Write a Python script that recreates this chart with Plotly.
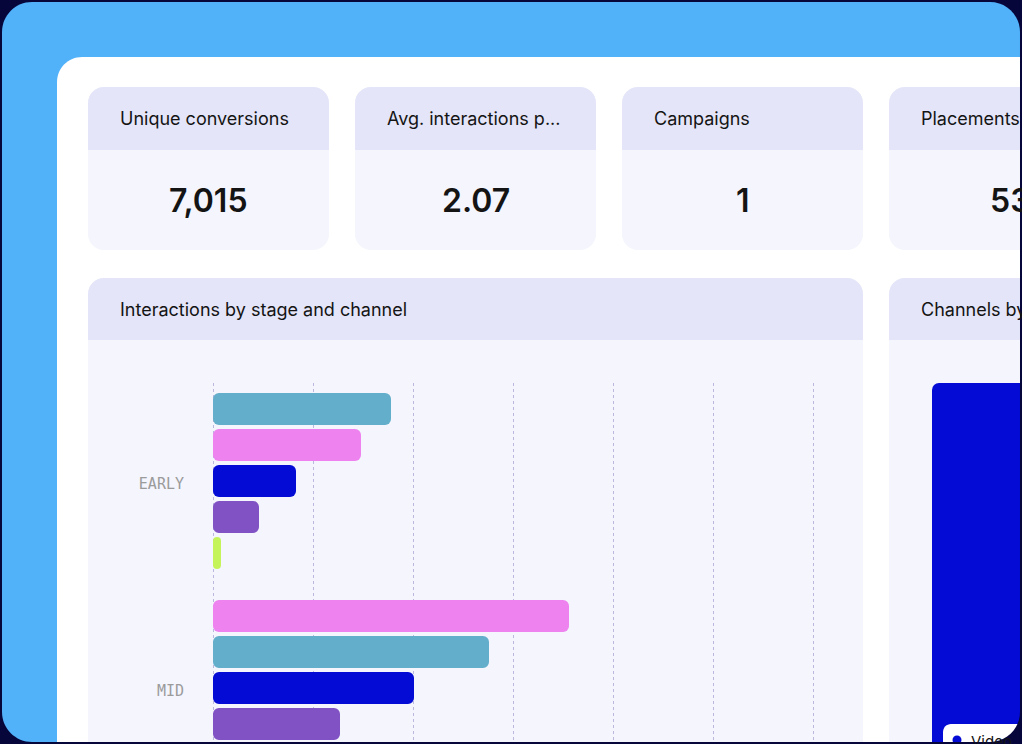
import plotly.graph_objects as go

# ---------------------------
# data
# ---------------------------
kpi_labels = ["Unique conversions", "Avg. interactions p...", "Campaigns", "Placements"]
kpi_values = [7015, 2.07, 1, 53]

stages = ["EARLY", "MID", "LATE"]
channels = ["Social", "Display", "Video", "Search", "Email"]
channel_colors = ["#63aecb", "#ee82ee", "#030bd4", "#8052c4", "#c5f45a"]
# interactions per stage (rows) and channel (cols)
interactions = [
    [1780, 1480, 830, 460, 80],
    [2760, 3560, 2010, 1270, 150],
    [1150, 940, 1320, 610, 60],
]

share_labels = ["Video"]
share_values = [100]

W, H = 1022, 744
NAVY = "#06063b"
FRAME = "#51b1f9"
HEAD = "#e4e5f8"
BODY = "#f4f5fd"
FONT = "Inter"


def px(x):
    return x / W


def py(y):
    return 1 - y / H


def rrect(x0, y0, x1, y1, tl=0, tr=0, br=0, bl=0):
    # rounded rect as svg path in paper units (input in pixels)
    k = 0.4477
    p = lambda x, y: f"{px(x):.5f},{py(y):.5f}"
    s = f"M {p(x0 + tl, y0)} L {p(x1 - tr, y0)} "
    if tr:
        s += f"C {p(x1 - tr * k, y0)} {p(x1, y0 + tr * k)} {p(x1, y0 + tr)} "
    s += f"L {p(x1, y1 - br)} "
    if br:
        s += f"C {p(x1, y1 - br * k)} {p(x1 - br * k, y1)} {p(x1 - br, y1)} "
    s += f"L {p(x0 + bl, y1)} "
    if bl:
        s += f"C {p(x0 + bl * k, y1)} {p(x0, y1 - bl * k)} {p(x0, y1 - bl)} "
    s += f"L {p(x0, y0 + tl)} "
    if tl:
        s += f"C {p(x0, y0 + tl * k)} {p(x0 + tl * k, y0)} {p(x0 + tl, y0)} "
    return s + "Z"


def box(path, color, layer="below"):
    return dict(type="path", path=path, xref="paper", yref="paper",
                fillcolor=color, line=dict(width=0), layer=layer)


def label(x, y, text, size=18, anchor="left", weight=400):
    return dict(x=px(x), y=py(y), xref="paper", yref="paper", text=text,
                showarrow=False, xanchor=anchor, yanchor="middle", borderpad=0,
                font=dict(family=FONT, size=size, color="#141414", weight=weight))


shapes = [
    box(rrect(2, 2, 1020, 742, 30, 30, 30, 30), FRAME),
    box(rrect(57, 57, 1020, 742, 25, 0, 30, 0), "white"),
]
annotations = []

# KPI cards
card_w, gap = 241, 26
for i, (lab, val) in enumerate(zip(kpi_labels, kpi_values)):
    x0 = 88 + i * (card_w + gap)
    shapes.append(box(rrect(x0, 87, x0 + card_w, 250, 16, 16, 16, 16), BODY))
    shapes.append(box(rrect(x0, 87, x0 + card_w, 150, 16, 16, 0, 0), HEAD))
    annotations.append(label(x0 + 31, 118.5, lab))
    annotations.append(label(x0 + card_w / 2, 200, f"{val:,}", size=32,
                             anchor="center", weight=600))

# chart cards
for x0, x1, title in [(88, 863, "Interactions by stage and channel"),
                      (889, 1130, "Channels by stage")]:
    shapes.append(box(rrect(x0, 278, x1, 742, 16, 16, 0, 0), BODY))
    shapes.append(box(rrect(x0, 278, x1, 340, 16, 16, 0, 0), HEAD))
    annotations.append(label(x0 + 31, 309, title))

fig = go.Figure()

# horizontal bars, sorted within each stage (explicit base -> both ends rounded)
group_step = 5.75
for c, (name, color) in enumerate(zip(channels, channel_colors)):
    ys, xs = [], []
    for g, row in enumerate(interactions):
        order = sorted(range(len(row)), key=lambda j: -row[j])
        ys.append(g * group_step + order.index(c))
        xs.append(row[c])
    fig.add_trace(go.Bar(
        x=xs, base=[0] * len(xs), y=ys, orientation="h", name=name, width=0.89,
        marker=dict(color=color, line=dict(width=0), cornerradius=6),
        showlegend=False, xaxis="x", yaxis="y"
    ))

# right-hand chart (only its first column shows)
fig.add_trace(go.Bar(
    x=[0], y=share_values, name=share_labels[0], width=1,
    marker=dict(color="#030bd4", line=dict(width=0), cornerradius=7),
    showlegend=False, xaxis="x2", yaxis="y2"
))

# legend chip of the right chart + clipping of the rounded frame corner
shapes.append(box(rrect(943, 724, 1080, 790, 8, 8, 8, 8), "white", "above"))
shapes.append(dict(type="circle", xref="paper", yref="paper",
                   x0=px(952.5), x1=px(961.5), y0=py(744.5), y1=py(735.5),
                   fillcolor="#030bd4", line=dict(width=0), layer="above"))
annotations.append(label(970, 741, share_labels[0], size=15))
mask = (f"M {px(1022)},{py(712)} L {px(1020)},{py(712)} "
        f"C {px(1020)},{py(712 + 30 * 0.5523)} {px(990 + 30 * 0.5523)},{py(742)} {px(990)},{py(742)} "
        f"L {px(990)},{py(744)} L {px(1022)},{py(744)} Z")
shapes.append(box(mask, NAVY, "above"))
shapes.append(box(rrect(1020, 0, 1022, 744), NAVY, "above"))
shapes.append(box(rrect(0, 742, 1022, 744), NAVY, "above"))

fig.update_layout(
    width=W, height=H,
    margin=dict(l=0, r=0, t=0, b=0),
    paper_bgcolor=NAVY,
    plot_bgcolor="rgba(0,0,0,0)",
    barmode="overlay",
    shapes=shapes,
    annotations=annotations,
    xaxis=dict(domain=[px(203), px(840)], range=[-100, 6270], dtick=1000,
               showgrid=True, gridcolor="#bab8de", griddash="dot", gridwidth=1,
               zeroline=False, showticklabels=False, fixedrange=True),
    yaxis=dict(domain=[py(742), py(383)], range=[9.25, -0.722],
               tickvals=[g * group_step + 2.08 for g in range(len(stages))],
               ticktext=stages, ticks="", showgrid=False, zeroline=False,
               ticklabelstandoff=18,
               tickfont=dict(family="DejaVu Sans Mono", size=15, color="#9b9b9b")),
    xaxis2=dict(domain=[px(920), px(1020)], range=[-0.62, 0.38], anchor="y2",
                visible=False),
    yaxis2=dict(domain=[py(742), py(383)], range=[0, max(share_values)], anchor="x2",
                visible=False),
)

fig.write_html("out.html", config={"displayModeBar": False},
               post_script="document.body.style.margin='0';")
